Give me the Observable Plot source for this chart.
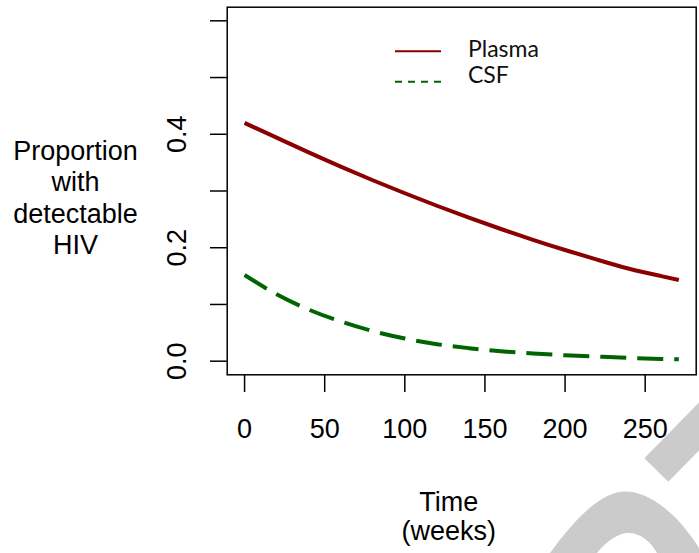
<!DOCTYPE html>
<html>
<head>
<meta charset="utf-8">
<script src="https://cdn.jsdelivr.net/npm/d3@7"></script>
<script src="https://cdn.jsdelivr.net/npm/@observablehq/plot@0.6"></script>
<style>
  html, body { margin: 0; padding: 0; background: white; }
  #wrap { position: relative; width: 699px; height: 553px; }
  #wrap svg.overlay { position: absolute; left: 0; top: 0; pointer-events: none; }
</style>
</head>
<body>
<div id="wrap"></div>
<script>
// ---- data ----
const weeks  = [0, 20, 40, 60, 80, 100, 120, 140, 160, 180, 200, 220, 240, 260, 271];
const plasma = [0.420, 0.394, 0.368, 0.343, 0.319, 0.296, 0.274, 0.253, 0.233, 0.214, 0.196, 0.179, 0.163, 0.150, 0.143];
const csf    = [0.152, 0.118, 0.091, 0.070, 0.053, 0.040, 0.030, 0.023, 0.0175, 0.0135, 0.0105, 0.0080, 0.0058, 0.0040, 0.0032];
const xTicks = [0, 50, 100, 150, 200, 250];
const yTicks = [0, 0.1, 0.2, 0.3, 0.4, 0.5, 0.6];
const yTickLabels = [0, 0.2, 0.4];
const seriesNames = ["Plasma", "CSF"];
const xLabel = "Time\n(weeks)";
const yLabel = "Proportion\nwith\ndetectable\nHIV";

const plasmaData = weeks.map((w, i) => ({week: w, p: plasma[i]}));
const csfData = weeks.map((w, i) => ({week: w, p: csf[i]}));

const FONT = "'Liberation Sans', Arial, sans-serif";

const chart = Plot.plot({
  width: 699,
  height: 553,
  marginLeft: 226.7,
  marginRight: 3.3,
  marginTop: 6.7,
  marginBottom: 178.7,
  x: {domain: [-10.84, 281.84]},
  y: {domain: [-0.024, 0.624]},
  style: {fontFamily: FONT, fontSize: "27px", background: "white", color: "black"},
  marks: [
    Plot.axisX(xTicks, {tickSize: 17.7, tickPadding: 26.3, fontSize: 27, strokeWidth: 1.5, label: null, tickFormat: d => String(d)}),
    Plot.axisY(yTicks, {tickSize: 16.7, strokeWidth: 1.5, label: null, tickFormat: () => ""}),
    Plot.text(yTickLabels, {
      y: d => d, frameAnchor: "left", dx: -50, rotate: -90,
      text: d => d.toFixed(1), textAnchor: "middle", lineAnchor: "middle", fontSize: 27, fill: "black"
    }),
    Plot.text([yLabel], {
      frameAnchor: "left", dx: -151.7, dy: 6, textAnchor: "middle", lineAnchor: "middle",
      lineHeight: 1.16, fontSize: 27, fill: "black"
    }),
    Plot.text([xLabel], {
      frameAnchor: "bottom", dx: -13, dy: 116.3, textAnchor: "middle", lineAnchor: "top",
      lineHeight: 1.06, fontSize: 27, fill: "black"
    }),
    Plot.line(plasmaData, {x: "week", y: "p", stroke: "#8B0000", strokeWidth: 4, curve: "natural", strokeLinecap: "butt"}),
    Plot.line(csfData, {x: "week", y: "p", stroke: "#006400", strokeWidth: 4, curve: "monotone-x", strokeDasharray: "26,11", strokeLinecap: "butt"}),
    Plot.frame({stroke: "black", strokeWidth: 1.5})
  ]
});

const wrap = document.getElementById("wrap");
wrap.appendChild(chart);

// legend + watermark overlay (decoration)
const ns = "http://www.w3.org/2000/svg";
const ov = document.createElementNS(ns, "svg");
ov.setAttribute("class", "overlay");
ov.setAttribute("width", 699);
ov.setAttribute("height", 553);
ov.innerHTML = `
  <g>
    <line x1="395" x2="441" y1="51.3" y2="51.3" stroke="#8B0000" stroke-width="2"/>
    <line x1="395" x2="441" y1="81.7" y2="81.7" stroke="#006400" stroke-width="2" stroke-dasharray="7,6"/>
    <text x="468" y="56.7" font-family="Lato, 'Open Sans', sans-serif" font-size="23" fill="#111">${seriesNames[0]}</text>
    <text x="468" y="82.7" font-family="Lato, 'Open Sans', sans-serif" font-size="23" fill="#111">${seriesNames[1]}</text>
  </g>
  <g fill="#cbcbcb">
    <path d="M644.3,458.3 L699,402.6 L699,450.4 L668.3,481.7 Z"/>
    <path d="M550,553 C585,505 610,488 632,492 C660,497 685,525 699,548 L699,553 L657,553 C650,540 638,532 627,533 C615,534 603,545 597,553 Z"/>
  </g>`;
wrap.appendChild(ov);
</script>
</body>
</html>
